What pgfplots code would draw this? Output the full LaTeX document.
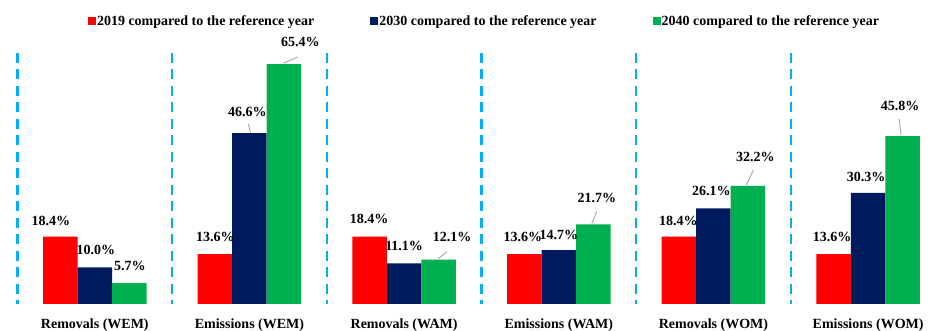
\documentclass[border=0pt]{standalone}
\usepackage{pgfplots}
\usepackage{pgfplotstable}
\pgfplotsset{compat=1.18}
\usepackage{fontspec}
\setmainfont{Liberation Serif}

\definecolor{barred}{HTML}{FF0000}
\definecolor{barnavy}{HTML}{001A5E}
\definecolor{bargreen}{HTML}{00B050}
\definecolor{sepblue}{HTML}{00B0F0}
\definecolor{leadergray}{HTML}{A6A6A6}

% x = category, y = change in %, dx/dy = label offset from the bar top (pt)
\pgfplotstableread{
x y dx dy
0 18.4 -9.5 15.7
1 13.6 0.5 17
2 18.4 -0.5 17.7
3 13.6 -1.5 17
4 18.4 -0.5 15.7
5 13.6 -1.5 17
}\tabA
\pgfplotstableread{
x y dx dy
0 10.0 1 17
1 46.6 -2 21
2 11.1 0 17
3 14.7 0 15
4 26.1 -2 17
5 30.3 -2 16
}\tabB
\pgfplotstableread{
x y dx dy
0 5.7 0.5 17
1 65.4 16.5 22
2 12.1 13.5 23
3 21.7 3.5 26
4 32.2 7.5 29
5 45.8 -2.5 30
}\tabC

\begin{document}
\begin{tikzpicture}[font=\bfseries\fontsize{14}{16}\selectfont]
\path[use as bounding box] (0,0) rectangle (938pt,331pt);
\begin{axis}[
  at={(0pt,27pt)}, anchor=south west,
  width=938pt, height=256pt, scale only axis,
  xmin=-0.613, xmax=5.452, ymin=0, ymax=69.8,
  enlargelimits=false, clip=false,
  axis line style={draw=none},
  ytick=\empty,
  xtick={0,...,5},
  xticklabels={Removals (WEM),Emissions (WEM),Removals (WAM),Emissions (WAM),Removals (WOM),Emissions (WOM)},
  xticklabel style={anchor=base, yshift=-25pt},
  major tick length=0pt,
  extra x ticks={-0.5,0.5,1.5,2.5,3.5,4.5},
  extra x tick labels={},
  extra x tick style={grid=major, major grid style={draw=sepblue, line width=2.2pt, dash pattern=on 10pt off 6.5pt, dash phase=6.5pt}},
  ybar=0pt, bar width=34.5pt,
  /pgf/number format/assume math mode=true,
  legend columns=3,
  legend style={draw=none, fill=none, at={(0.516,1.105)}, anchor=center,
    nodes={inner sep=1pt},
    /tikz/every even column/.append style={column sep=55pt}},
  legend image code/.code={\fill[#1] (0pt,-4pt) rectangle (8pt,4pt);},
  valuelabels/.style={
    point meta=y,
    visualization depends on=\thisrow{dx}\as\dx,
    visualization depends on=\thisrow{dy}\as\dy,
    nodes near coords={\pgfmathprintnumber[fixed,fixed zerofill,precision=1]{\pgfplotspointmeta}\%},
    every node near coord/.append style={anchor=center, inner sep=0pt, xshift=\dx pt, yshift=\dy pt, text=black},
  },
]
\addplot[fill=barred, draw=none, valuelabels] table[x=x,y=y] {\tabA};
\addlegendentry{2019 compared to the reference year}
\addplot[fill=barnavy, draw=none, valuelabels] table[x=x,y=y] {\tabB};
\addlegendentry{2030 compared to the reference year}
\addplot[fill=bargreen, draw=none, valuelabels] table[x=x,y=y] {\tabC};
\addlegendentry{2040 compared to the reference year}

% leader lines from bar tops to their labels
\draw[leadergray, line width=0.9pt] ([xshift=1pt]axis cs:1,46.6) -- ([xshift=-1pt,yshift=9pt]axis cs:1,46.6);
\draw[leadergray, line width=0.9pt] ([xshift=34pt,yshift=1pt]axis cs:1,65.4) -- ([xshift=48pt,yshift=7pt]axis cs:1,65.4);
\draw[leadergray, line width=0.9pt] ([xshift=34pt,yshift=1pt]axis cs:2,12.1) -- ([xshift=43pt,yshift=8pt]axis cs:2,12.1);
\draw[leadergray, line width=0.9pt] ([xshift=33pt,yshift=1pt]axis cs:3,21.7) -- ([xshift=38pt,yshift=13pt]axis cs:3,21.7);
\draw[leadergray, line width=0.9pt] ([xshift=33pt,yshift=1pt]axis cs:4,32.2) -- ([xshift=40pt,yshift=16pt]axis cs:4,32.2);
\draw[leadergray, line width=0.9pt] ([xshift=33pt,yshift=1pt]axis cs:5,45.8) -- ([xshift=31pt,yshift=17pt]axis cs:5,45.8);
\end{axis}
\end{tikzpicture}
\end{document}
